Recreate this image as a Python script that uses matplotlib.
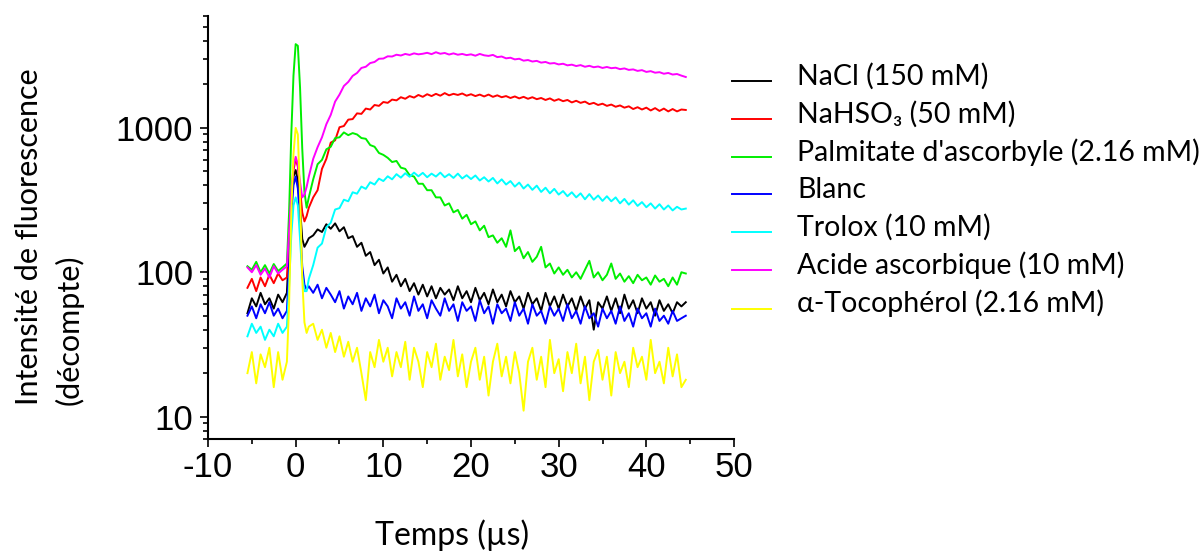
import matplotlib
matplotlib.use("Agg")
import matplotlib.pyplot as plt
from matplotlib.ticker import MultipleLocator, LogLocator, NullFormatter
from matplotlib.font_manager import FontProperties
from matplotlib.legend_handler import HandlerLine2D
from matplotlib.lines import Line2D

plt.rcParams["axes.unicode_minus"] = False
plt.rcParams["font.family"] = ["Liberation Sans", "DejaVu Sans"]

# ---------------- data ----------------
TIME = [-5.5, -5.0, -4.5, -4.0, -3.5, -3.0, -2.5, -2.0, -1.5, -1.0,
        -0.75, -0.5, -0.25, 0.0, 0.25, 0.5, 0.75, 1.0, 1.25, 1.5,
        2.0, 2.5, 3.0, 3.5, 4.0, 4.5, 5.0, 5.5, 6.0, 6.5,
        7.0, 7.5, 8.0, 8.5, 9.0, 9.5, 10.0, 10.5, 11.0, 11.5,
        12.0, 12.5, 13.0, 13.5, 14.0, 14.5, 15.0, 15.5, 16.0, 16.5,
        17.0, 17.5, 18.0, 18.5, 19.0, 19.5, 20.0, 20.5, 21.0, 21.5,
        22.0, 22.5, 23.0, 23.5, 24.0, 24.5, 25.0, 25.5, 26.0, 26.5,
        27.0, 27.5, 28.0, 28.5, 29.0, 29.5, 30.0, 30.5, 31.0, 31.5,
        32.0, 32.5, 33.0, 33.5, 34.0, 34.5, 35.0, 35.5, 36.0, 36.5,
        37.0, 37.5, 38.0, 38.5, 39.0, 39.5, 40.0, 40.5, 41.0, 41.5,
        42.0, 42.5, 43.0, 43.5, 44.0, 44.5]

NACL = [52, 66, 58, 72, 60, 66, 56, 70, 62, 72,
        150, 310, 460, 510, 430, 280, 170, 150, 160, 172,
        180, 198, 190, 215, 200, 218, 192, 205, 172, 178,
        150, 160, 130, 138, 112, 122, 98, 108, 86, 96,
        80, 90, 74, 84, 70, 82, 68, 80, 66, 78,
        70, 76, 64, 80, 66, 74, 62, 78, 64, 72,
        60, 76, 62, 70, 58, 74, 62, 68, 56, 72,
        60, 66, 54, 72, 58, 68, 56, 70, 58, 66,
        54, 68, 56, 64, 40, 62, 56, 68, 54, 66,
        52, 70, 56, 64, 52, 66, 56, 62, 50, 64,
        54, 60, 52, 62, 58, 62]

NAHSO3 = [78, 90, 74, 92, 80, 96, 84, 98, 88, 92,
          170, 340, 510, 610, 540, 380, 260, 225, 245, 280,
          330, 370, 520, 610, 790, 820, 1010, 1030, 1140, 1150,
          1260, 1250, 1360, 1340, 1440, 1420, 1510, 1490, 1570, 1550,
          1630, 1590, 1660, 1620, 1690, 1640, 1710, 1660, 1720, 1670,
          1740, 1680, 1720, 1690, 1730, 1670, 1710, 1660, 1700, 1650,
          1700, 1640, 1680, 1630, 1660, 1610, 1650, 1600, 1640, 1590,
          1630, 1580, 1610, 1560, 1600, 1540, 1580, 1530, 1560, 1500,
          1540, 1490, 1520, 1460, 1490, 1440, 1470, 1420, 1450, 1400,
          1430, 1380, 1410, 1350, 1390, 1340, 1380, 1320, 1370, 1310,
          1360, 1300, 1350, 1300, 1340, 1330]

PALMITATE = [110, 104, 118, 100, 112, 98, 114, 102, 108, 115,
             260, 900, 2300, 3800, 3700, 1900, 720, 360, 280, 330,
             440, 560, 600, 710, 740, 850, 860, 930, 890, 920,
             900, 850, 840, 760, 740, 670, 650, 620, 580, 590,
             530, 520, 470, 460, 410, 410, 370, 370, 330, 330,
             290, 300, 260, 270, 235, 250, 215, 225, 195, 210,
             175, 180, 160, 172, 150, 195, 140, 150, 125, 138,
             118, 128, 150, 108, 115, 98, 108, 96, 104, 92,
             100, 90, 104, 120, 92, 100, 88, 96, 115, 90,
             98, 86, 94, 84, 96, 88, 92, 82, 95, 86,
             90, 80, 92, 82, 100, 98]

BLANC = [50, 58, 48, 60, 52, 62, 50, 56, 48, 54,
         110, 250, 400, 460, 380, 220, 110, 82, 76, 80,
         72, 82, 66, 78, 70, 62, 74, 56, 68, 60,
         72, 54, 66, 58, 70, 52, 64, 58, 48, 66,
         56, 62, 50, 68, 54, 60, 48, 64, 56, 50,
         66, 54, 60, 46, 62, 54, 58, 46, 64, 52,
         58, 44, 60, 52, 56, 46, 62, 50, 56, 44,
         60, 50, 54, 44, 58, 50, 56, 46, 60, 48,
         54, 44, 58, 48, 52, 42, 56, 48, 54, 44,
         58, 46, 52, 42, 56, 48, 52, 42, 56, 46,
         50, 44, 54, 46, 48, 50]

TROLOX = [36, 44, 38, 42, 34, 40, 36, 44, 38, 42,
          80, 180, 290, 330, 290, 170, 95, 74, 74, 90,
          112, 148, 158, 205, 220, 272, 278, 318, 310, 358,
          350, 392, 378, 420, 405, 445, 428, 462, 440, 478,
          452, 485, 458, 490, 462, 488, 455, 482, 460, 490,
          455, 478, 450, 482, 446, 470, 442, 468, 432, 455,
          425, 450, 412, 440, 405, 428, 392, 418, 380, 405,
          372, 398, 360, 385, 352, 378, 345, 365, 336, 358,
          330, 352, 320, 348, 318, 340, 312, 336, 310, 330,
          300, 322, 294, 315, 288, 306, 282, 300, 276, 296,
          272, 290, 268, 284, 272, 276]

ASCORBIQUE = [108, 100, 112, 96, 106, 92, 110, 98, 104, 110,
              190, 360, 540, 630, 560, 420, 330, 345, 390, 460,
              610, 735, 860, 1060, 1230, 1520, 1700, 1950, 2080, 2290,
              2400, 2600, 2650, 2810, 2860, 3010, 3020, 3130, 3120, 3210,
              3170, 3250, 3200, 3280, 3230, 3260, 3310, 3240, 3340, 3260,
              3300, 3220, 3280, 3210, 3250, 3190, 3230, 3160, 3250, 3180,
              3150, 3200, 3090, 3120, 3030, 3060, 2980, 3010, 2920, 2950,
              2880, 2910, 2830, 2860, 2790, 2810, 2750, 2780, 2710, 2740,
              2680, 2720, 2650, 2690, 2630, 2660, 2600, 2640, 2590, 2610,
              2550, 2580, 2520, 2540, 2480, 2510, 2440, 2470, 2410, 2430,
              2370, 2400, 2340, 2360, 2300, 2250]

TOCOPHEROL = [20, 28, 17, 27, 22, 30, 16, 28, 18, 24,
              60, 260, 660, 1000, 900, 340, 90, 45, 38, 42,
              44, 34, 40, 30, 38, 28, 36, 26, 33, 24,
              30, 20, 13, 28, 22, 34, 24, 30, 19, 28,
              22, 33, 18, 30, 24, 16, 28, 22, 32, 18,
              26, 21, 34, 19, 27, 16, 24, 30, 18, 26,
              14, 24, 32, 19, 26, 17, 28, 20, 11, 24,
              30, 18, 26, 16, 34, 20, 25, 15, 28, 20,
              32, 17, 26, 13, 24, 29, 18, 26, 14, 28,
              20, 24, 16, 30, 22, 26, 18, 34, 20, 24,
              17, 30, 19, 27, 16, 18]

LABELS = ["NaCl (150 mM)", "NaHSO\u2083 (50 mM)", "Palmitate d'ascorbyle (2.16 mM)",
          "Blanc", "Trolox (10 mM)", "Acide ascorbique (10 mM)", "\u03b1-Tocophérol (2.16 mM)"]
COLORS = ["#000000", "#ff0000", "#00ee00", "#0000ff", "#00ffff", "#ff00ff", "#ffff00"]
SERIES = [NACL, NAHSO3, PALMITATE, BLANC, TROLOX, ASCORBIQUE, TOCOPHEROL]

X_TICKS = [-10, 0, 10, 20, 30, 40, 50]
Y_TICKS = [10, 100, 1000]
Y_TICK_LABELS = ["10", "100", "1000"]


class LowLineHandler(HandlerLine2D):
    """Legend line drawn slightly below the text centre, as in the reference."""
    def create_artists(self, legend, orig_handle, xdescent, ydescent,
                       width, height, fontsize, trans):
        arts = super().create_artists(legend, orig_handle, xdescent, ydescent,
                                      width, height, fontsize, trans)
        for a in arts:
            if isinstance(a, Line2D):
                a.set_ydata([y - 0.22 * fontsize for y in a.get_ydata()])
        return arts


# ---------------- figure ----------------
W, H = 1200, 551
fig = plt.figure(figsize=(W / 100, H / 100), dpi=100)
ax = fig.add_axes([208 / W, (H - 439) / H, 526 / W, 423.5 / H])

for vals, lab, col in zip(SERIES, LABELS, COLORS):
    ax.plot(TIME, vals, color=col, lw=1.4, label=lab)

ax.set_yscale("log")
ax.set_xlim(-10, 50)
ax.set_ylim(7, 6000)

for s in ("top", "right"):
    ax.spines[s].set_visible(False)
for s in ("left", "bottom"):
    ax.spines[s].set_linewidth(1.5)

ax.set_xticks(X_TICKS)
ax.set_xticklabels([str(v) for v in X_TICKS])
ax.xaxis.set_minor_locator(MultipleLocator(5))
ax.set_yticks(Y_TICKS)
ax.set_yticklabels(Y_TICK_LABELS)
ax.yaxis.set_minor_locator(LogLocator(base=10, subs=range(2, 10), numticks=20))
ax.yaxis.set_minor_formatter(NullFormatter())

ax.tick_params(which="major", direction="out", length=5.8, width=1.2, labelsize=25)
ax.tick_params(which="minor", direction="out", length=3.4, width=1.2)
ax.tick_params(axis="y", which="major", pad=5)
ax.tick_params(axis="x", which="major", pad=3)

lab_font = ["Lato", "DejaVu Sans"]
ax.set_ylabel("Intensité de fluorescence\n(décompte)", fontfamily=lab_font, fontsize=22,
              ha="left", va="bottom", multialignment="left", linespacing=1.5)
ax.yaxis.set_label_coords((84 - 208) / 526, (439 - 405) / 423.5)

ax.set_xlabel("Temps (µs)", fontfamily=lab_font, fontsize=23, va="baseline")
ax.xaxis.set_label_coords((452.5 - 208) / 526, (439 - 545) / 423.5)

handles, labels = ax.get_legend_handles_labels()
leg = ax.legend(handles, labels, loc="upper left", bbox_to_anchor=(732 / W, (H - 63) / H),
                bbox_transform=fig.transFigure, frameon=False,
                prop=FontProperties(family=lab_font, size=20.5),
                handlelength=1.38, handletextpad=0.92, labelspacing=0.38,
                borderpad=0, borderaxespad=0,
                handler_map={Line2D: LowLineHandler()})

fig.savefig("out.png", dpi=100)
